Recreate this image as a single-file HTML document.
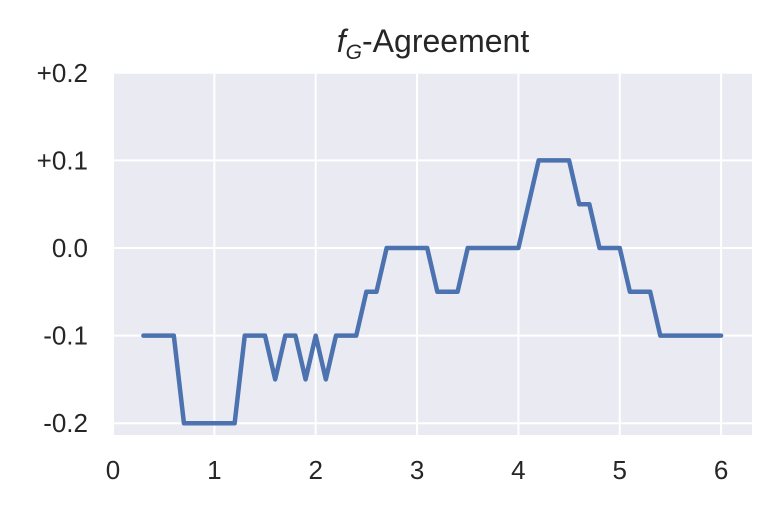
<!DOCTYPE html>
<html><head><meta charset="utf-8"><style>
body{margin:0;background:#fff;}
svg text{font-family:"Liberation Sans",sans-serif;fill:#262626;}
</style></head><body>
<svg id="chart" width="768" height="512" viewBox="0 0 768 512" xmlns="http://www.w3.org/2000/svg">
<rect x="113" y="72" width="639" height="363" fill="#eaeaf2"/>
<g id="grid"></g>
<g id="ticks"></g>
<g id="series"></g>
<text x="433" y="52" font-size="32" text-anchor="middle"><tspan font-style="italic">f</tspan><tspan font-style="italic" font-size="21" dy="7">G</tspan><tspan dy="-7">-Agreement</tspan></text>
</svg>
<script>
const xVals=[0.3,0.6,0.7,1.2,1.3,1.5,1.6,1.7,1.8,1.9,2.0,2.1,2.2,2.4,2.5,2.6,2.7,3.1,3.2,3.4,3.5,4.0,4.2,4.5,4.6,4.7,4.8,5.0,5.1,5.3,5.4,6.0];
const yVals=[-0.1,-0.1,-0.2,-0.2,-0.1,-0.1,-0.15,-0.1,-0.1,-0.15,-0.1,-0.15,-0.1,-0.1,-0.05,-0.05,0,0,-0.05,-0.05,0,0,0.1,0.1,0.05,0.05,0,0,-0.05,-0.05,-0.1,-0.1];
const xTicks=[0,1,2,3,4,5,6];
const yTicks=[-0.2,-0.1,0,0.1,0.2];
const yTickLabels=["-0.2","-0.1","0.0","+0.1","+0.2"];
const NS="http://www.w3.org/2000/svg";
const sx=v=>113+v*101.35;
const sy=v=>248-v*876;
const grid=document.getElementById('grid'),ticks=document.getElementById('ticks'),series=document.getElementById('series');
xTicks.forEach(t=>{
 const l=document.createElementNS(NS,'line');
 l.setAttribute('x1',sx(t));l.setAttribute('x2',sx(t));l.setAttribute('y1',72);l.setAttribute('y2',435);
 l.setAttribute('stroke','#fff');l.setAttribute('stroke-width','2');
 
 
 grid.appendChild(l);
 const tx=document.createElementNS(NS,'text');
 tx.setAttribute('x',sx(t));tx.setAttribute('y',479);tx.setAttribute('font-size','26');tx.setAttribute('text-anchor','middle');
 tx.textContent=t;
 
 
 ticks.appendChild(tx);
});
yTicks.forEach((t,i)=>{
 const l=document.createElementNS(NS,'line');
 l.setAttribute('x1',113);l.setAttribute('x2',752);l.setAttribute('y1',sy(t));l.setAttribute('y2',sy(t));
 l.setAttribute('stroke','#fff');l.setAttribute('stroke-width','2');
 
 
 grid.appendChild(l);
 const tx=document.createElementNS(NS,'text');
 tx.setAttribute('x',88);tx.setAttribute('y',sy(t)+9);tx.setAttribute('font-size','26');tx.setAttribute('text-anchor','end');
 tx.textContent=yTickLabels[i];
 
 
 ticks.appendChild(tx);
});
const p=document.createElementNS(NS,'polyline');
p.setAttribute('points',xVals.map((x,i)=>sx(x)+','+sy(yVals[i])).join(' '));
p.setAttribute('fill','none');p.setAttribute('stroke','#4c72b0');p.setAttribute('stroke-width','4.5');p.setAttribute('stroke-linejoin','round');p.setAttribute('stroke-linecap','round');


series.appendChild(p);
</script>
</body></html>
